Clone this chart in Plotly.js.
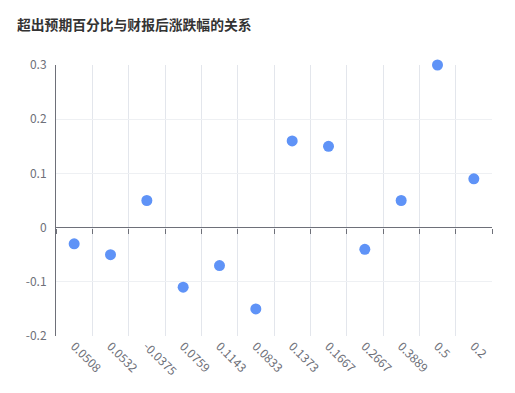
<!DOCTYPE html>
<html>
<head>
<meta charset="utf-8">
<script src="https://cdn.plot.ly/plotly-3.0.1.min.js"></script>
<style>html,body{margin:0;padding:0;background:#fff;}#chart{width:515px;height:393px;}</style>
</head>
<body>
<div id="chart"></div>
<script>
var categories = ["0.0508","0.0532","-0.0375","0.0759","0.1143","0.0833","0.1373","0.1667","0.2667","0.3889","0.5","0.2"];
var changes = [-0.03,-0.05,0.05,-0.11,-0.07,-0.15,0.16,0.15,-0.04,0.05,0.3,0.09];
var yTickVals = [-0.2,-0.1,0,0.1,0.2,0.3];
var yTickText = ["-0.2","-0.1","0","0.1","0.2","0.3"];
var titleText = "超出预期百分比与财报后涨跌幅的关系";

var font = "'Microsoft YaHei','Noto Sans CJK SC','Noto Sans',sans-serif";
var axisGray = "#6e7079";
var xRange = [-0.5, categories.length - 0.5];

var traces = [
  {
    type: "scatter", mode: "markers",
    x: categories, y: changes,
    marker: {color: "#5f93f7", size: 11},
    cliponaxis: false,
    hoverinfo: "x+y", showlegend: false
  },
  {
    type: "scatter", mode: "markers",
    x: categories, y: changes, xaxis: "x2",
    marker: {opacity: 0}, hoverinfo: "skip", showlegend: false
  }
];

var layout = {
  width: 515, height: 393,
  margin: {l: 56, r: 23, t: 65, b: 57},
  paper_bgcolor: "#fff", plot_bgcolor: "#fff",
  font: {family: font, size: 12, color: axisGray},
  title: {
    text: "<b>" + titleText + "</b>",
    x: 17/515, xanchor: "left", xref: "container",
    y: 1 - 25/393, yanchor: "middle", yref: "container",
    font: {family: font, size: 13.8, color: "#333"}
  },
  xaxis: {
    type: "category",
    categoryorder: "array", categoryarray: categories,
    range: xRange, autorange: false,
    tickson: "boundaries",
    showgrid: true, gridcolor: "#e3e6ec", gridwidth: 1,
    ticks: "", showline: false, zeroline: false,
    tickangle: 45,
    tickfont: {family: font, size: 12, color: axisGray},
    fixedrange: true
  },
  xaxis2: {
    type: "category", overlaying: "x",
    categoryorder: "array", categoryarray: categories,
    range: xRange, autorange: false,
    anchor: "free", position: 0.4, side: "bottom",
    tickson: "boundaries",
    ticks: "outside", ticklen: 5, tickwidth: 1, tickcolor: axisGray,
    showticklabels: false, showgrid: false, showline: false, zeroline: false
  },
  yaxis: {
    range: [-0.2, 0.3],
    tickvals: yTickVals, ticktext: yTickText,
    showgrid: true, gridcolor: "#eef0f3", gridwidth: 1,
    showline: true, linecolor: axisGray, linewidth: 1,
    zeroline: true, zerolinecolor: axisGray, zerolinewidth: 1,
    ticks: "", ticklabelstandoff: 6,
    tickfont: {family: font, size: 12, color: axisGray},
    fixedrange: true
  }
};

Plotly.newPlot("chart", traces, layout, {displayModeBar: false, staticPlot: true});
</script>
</body>
</html>
